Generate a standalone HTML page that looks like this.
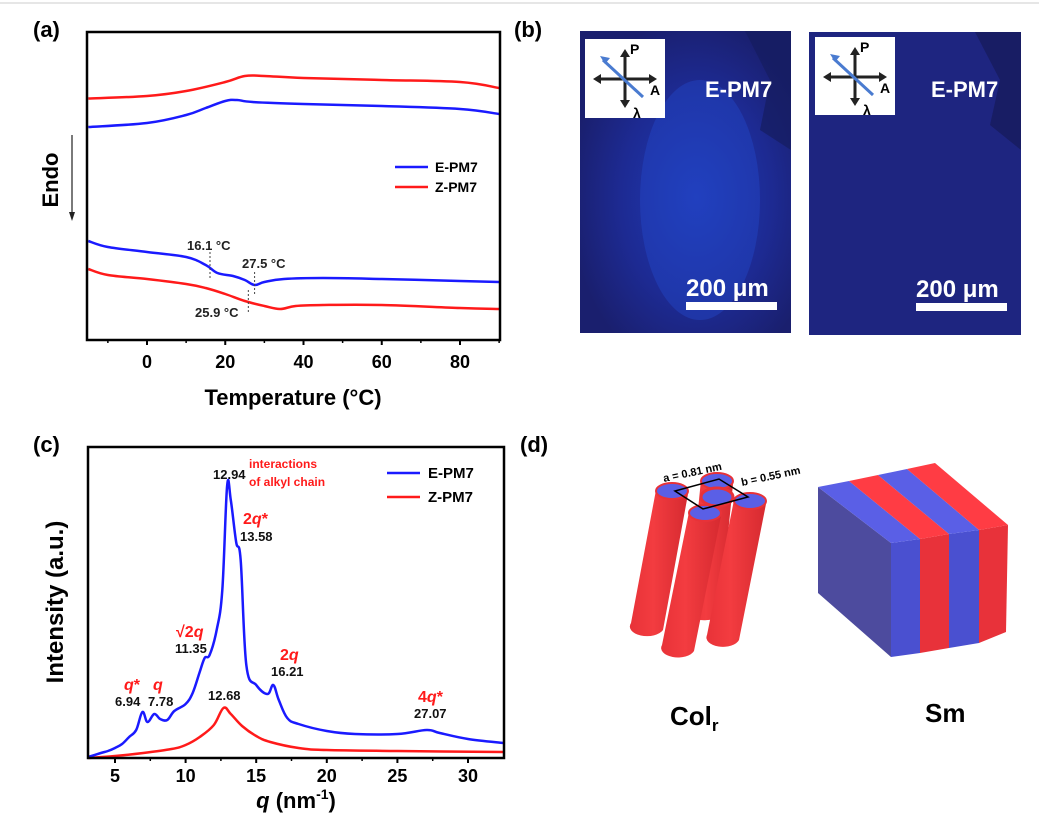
<!DOCTYPE html>
<html><head><meta charset="utf-8"><style>
html,body{margin:0;padding:0;background:#fff;}
svg{display:block;font-family:"Liberation Sans",Arial,sans-serif;}
</style></head><body>
<svg id="fig" width="1039" height="828" viewBox="0 0 1039 828" xmlns="http://www.w3.org/2000/svg">
<defs>
<radialGradient id="pom1" cx="0.55" cy="0.55" r="0.6"><stop offset="0" stop-color="#1f3bb8"/><stop offset="0.6" stop-color="#1d2a92"/><stop offset="1" stop-color="#1a1f6e"/></radialGradient>
<linearGradient id="cyl" x1="0" x2="1"><stop offset="0" stop-color="#e83238"/><stop offset="0.4" stop-color="#f33c40"/><stop offset="1" stop-color="#d62a30"/></linearGradient>
</defs>
<line x1="0" y1="3" x2="1039" y2="3" stroke="#ccc" stroke-width="1"/>
<g font-weight="bold" font-size="22">
<text x="33" y="37">(a)</text>
<text x="514" y="37">(b)</text>
<text x="33" y="452">(c)</text>
<text x="520" y="452">(d)</text>
</g>
<g id="dsc"></g>
<g id="xrd"></g>

<g>
<rect x="580" y="31" width="211" height="302" fill="url(#pom1)"/>
<ellipse cx="700" cy="200" rx="60" ry="120" fill="#2347c8" opacity="0.45"/>
<path d="M745 31 L791 31 L791 150 L760 130 L770 80Z" fill="#151c60" opacity="0.7"/>
<rect x="809" y="32" width="212" height="303" fill="#1e2580"/>
<path d="M975 32 L1021 32 L1021 150 L990 125 L1000 80Z" fill="#151a58" opacity="0.7"/>
<g>
<rect x="585" y="39" width="80" height="79" fill="#fff"/>
<g stroke="#222" stroke-width="3" fill="#222"><line x1="625" y1="55" x2="625" y2="103"/><line x1="598" y1="79" x2="652" y2="79"/></g>
<path d="M625 49 l-5 8 h10z M625 108 l-5 -8 h10z M593 79 l8 -5 v10z M657 79 l-8 -5 v10z" fill="#222"/>
<line x1="603" y1="60" x2="643" y2="97" stroke="#4a7bd0" stroke-width="3"/><path d="M600 56 l10 2 l-5 6z" fill="#4a7bd0"/>
<text x="630" y="54" font-size="14" font-weight="bold">P</text><text x="650" y="95" font-size="14" font-weight="bold">A</text><text x="633" y="118" font-size="14" font-weight="bold">λ</text>
</g>
<g>
<rect x="815" y="37" width="80" height="78" fill="#fff"/>
<g stroke="#222" stroke-width="3"><line x1="855" y1="53" x2="855" y2="101"/><line x1="828" y1="77" x2="882" y2="77"/></g>
<path d="M855 47 l-5 8 h10z M855 106 l-5 -8 h10z M823 77 l8 -5 v10z M887 77 l-8 -5 v10z" fill="#222"/>
<line x1="833" y1="58" x2="873" y2="95" stroke="#4a7bd0" stroke-width="3"/><path d="M830 54 l10 2 l-5 6z" fill="#4a7bd0"/>
<text x="860" y="52" font-size="14" font-weight="bold">P</text><text x="880" y="93" font-size="14" font-weight="bold">A</text><text x="863" y="115" font-size="14" font-weight="bold">λ</text>
</g>
<g fill="#fff" font-weight="bold">
<text x="705" y="97" font-size="22">E-PM7</text>
<text x="931" y="97" font-size="22">E-PM7</text>
<text x="686" y="296" font-size="24">200 μm</text>
<rect x="686" y="302" width="91" height="8"/>
<text x="916" y="297" font-size="24">200 μm</text>
<rect x="916" y="303" width="91" height="8"/>
</g>
</g>

<g>
<g><path d="M701 480 L688 610 A16 8 0 0 0 720 614 L733 484Z" fill="url(#cyl)"/><ellipse cx="717" cy="481" rx="16" ry="8" fill="#5a5fe6" stroke="#e83238" stroke-width="2"/></g>
<g><path d="M656 490 L631 623 A16 9 0 0 0 663 630 L688 494Z" fill="url(#cyl)"/><ellipse cx="672" cy="491" rx="16" ry="8" fill="#5a5fe6" stroke="#e83238" stroke-width="2"/></g>
<g><path d="M734 500 L707 635 A16 9 0 0 0 739 640 L766 504Z" fill="url(#cyl)"/><ellipse cx="750" cy="501" rx="16" ry="8" fill="#5a5fe6" stroke="#e83238" stroke-width="2"/></g>
<g><path d="M689 512 L662 645 A16 9 0 0 0 694 651 L721 516Z" fill="url(#cyl)"/><ellipse cx="705" cy="513" rx="16" ry="8" fill="#5a5fe6" stroke="#e83238" stroke-width="2"/></g>
<ellipse cx="717" cy="497" rx="16" ry="9" fill="#5a5fe6" stroke="#e83238" stroke-width="3"/>
<polygon points="675,491 719,479 748,497 703,509" fill="none" stroke="#000" stroke-width="1.5"/>
<text x="664" y="482" font-size="11" font-weight="bold" transform="rotate(-12 664 482)">a = 0.81 nm</text>
<text x="742" y="486" font-size="11" font-weight="bold" transform="rotate(-12 742 486)">b = 0.55 nm</text>
<text x="670" y="725" font-size="26" font-weight="bold">Col<tspan font-size="17" dy="6">r</tspan></text>
</g>
<g>
<polygon points="818,487 891,543 891,657 818,593" fill="#4d4b9e"/>
<polygon points="891,543 920,539 920,653 891,657" fill="#4a50d0"/>
<polygon points="920,539 949,534 949,648 920,653" fill="#e8323a"/>
<polygon points="949,534 979,530 979,643 949,648" fill="#4a50d0"/>
<polygon points="979,530 1008,525 1006,632 979,643" fill="#e8323a"/>
<polygon points="818,487 849,481 920,539 891,543" fill="#5a5fe6"/>
<polygon points="849,481 878,475 949,534 920,539" fill="#ff3c44"/>
<polygon points="878,475 907,469 979,530 949,534" fill="#5a5fe6"/>
<polygon points="907,469 935,463 1008,525 979,530" fill="#ff3c44"/>
<text x="925" y="722" font-size="26" font-weight="bold">Sm</text>
</g>
</svg>
<script>
// ---------- DSC data (panel a) ----------
const eHeatT = [-15,0,10,15,20,23,27,40,60,80,90];
const eHeat  = [213,217,225,232,239,240,238,236,234,231,226];
const zHeatT = [-15,0,10,20,25,30,40,60,80,90];
const zHeat  = [241.5,244,249,258,264,264,262,260,258,252];
const eCoolT = [-15,-10,0,10,15,18,22,25,27.5,30,35,45,60,80,90];
const eCool  = [99,93,88,83,75,67,64,60,55,58,61,62,61,59,58];
const zCoolT = [-15,-10,0,10,15,20,25,30,34,38,45,60,80,90];
const zCool  = [71,65,61,56,52,46,39,34,31,34,35,35,32,31];
const dscTicks = [0,20,40,60,80];
const dscMinor = [-10,10,30,50,70,90];
const dscMarks = [16.1,27.5,25.9];

// ---------- XRD data (panel c) ----------
const ePM7q = [3.1,4,4.5,5,5.5,6,6.5,6.94,7.3,7.78,8.2,8.7,9.2,10,10.5,11,11.35,11.7,12.2,12.6,12.94,13.2,13.58,13.9,14.3,15,15.8,16.21,16.6,17.2,18,20,22,25,27.07,28,30,32.5];
const ePM7I = [1,5,7,10,14,21,28,46,36,44,39,38,47,54,65,86,100,103,128,168,272,258,216,198,93,73,64,73,58,40,34,27,24,24,28,25,19,15];
const zPM7q = [3.1,5,7,9,10,11,12,12.68,13.2,14,15,16,18,20,25,32.5];
const zPM7I = [0,2,5,9,13,21,33,50,44,32,22,16,10,8,7,6];
const xrdTicks = [5,10,15,20,25,30];
const xrdMinor = [7.5,12.5,17.5,22.5,27.5];

const NS="http://www.w3.org/2000/svg";
function mk(parent,tag,attrs){const e=document.createElementNS(NS,tag);for(const k in attrs)e.setAttribute(k,attrs[k]);parent.appendChild(e);return e;}
function smooth(pts){let d="M"+pts[0][0]+" "+pts[0][1];for(let i=0;i<pts.length-1;i++){const p0=pts[Math.max(i-1,0)],p1=pts[i],p2=pts[i+1],p3=pts[Math.min(i+2,pts.length-1)];const t=0.18;d+=" C"+(p1[0]+(p2[0]-p0[0])*t)+" "+(p1[1]+(p2[1]-p0[1])*t)+" "+(p2[0]-(p3[0]-p1[0])*t)+" "+(p2[1]-(p3[1]-p1[1])*t)+" "+p2[0]+" "+p2[1];}return d;}
function tsp(parent,txt,attrs){const s=mk(parent,'tspan',attrs||{});s.textContent=txt;return s;}

(function(){
const g=document.getElementById('dsc');
const L=87,R=500,T=32,B=340;
const xs=t=>147+t*(313/80);
const ys=v=>340-v;
function series(tx,vals,color,name){
  const p=mk(g,'path',{d:smooth(tx.map((t,i)=>[xs(t),ys(vals[i])])),fill:'none',stroke:color,'stroke-width':2.5});
  
  
}
series(zHeatT,zHeat,'#ff1a1a','z-pm7-heating-curve');
series(eHeatT,eHeat,'#1a1aff','e-pm7-heating-curve');
series(eCoolT,eCool,'#1a1aff','e-pm7-cooling-curve');
series(zCoolT,zCool,'#ff1a1a','z-pm7-cooling-curve');
const r=mk(g,'rect',{x:L,y:T,width:R-L,height:B-T,fill:'none',stroke:'#000','stroke-width':2.5});


dscTicks.forEach(t=>{
  const tk=mk(g,'line',{x1:xs(t),x2:xs(t),y1:B,y2:B+5,stroke:'#000','stroke-width':2});
  
  
  const tl=mk(g,'text',{x:xs(t),y:B+28,'font-size':18,'font-weight':'bold','text-anchor':'middle'});
  tl.textContent=t;
  
  
});
dscMinor.forEach(t=>{
  const tk=mk(g,'line',{x1:xs(t),x2:xs(t),y1:B,y2:B+3,stroke:'#000','stroke-width':1.5});
  
  
});
const spans=[[252,279],[272,296],[290,314]];
dscMarks.forEach((m,i)=>{
  const l=mk(g,'line',{x1:xs(m),x2:xs(m),y1:spans[i][0],y2:spans[i][1],stroke:'#444','stroke-width':1,'stroke-dasharray':'2,2'});
  
  
});
const labs=[[187,250,'16.1 °C'],[242,268,'27.5 °C'],[195,317,'25.9 °C']];
labs.forEach(a=>{const t=mk(g,'text',{x:a[0],y:a[1],'font-size':13,'font-weight':'bold',fill:'#222'});t.textContent=a[2];
  
  });
const xt=mk(g,'text',{x:293,y:405,'font-size':22,'font-weight':'bold','text-anchor':'middle'});xt.textContent='Temperature (°C)';


const yt=mk(g,'text',{x:0,y:0,'font-size':22,'font-weight':'bold','text-anchor':'middle',transform:'translate(58,180) rotate(-90)'});yt.textContent='Endo';


const ar=mk(g,'line',{x1:72,y1:135,x2:72,y2:214,stroke:'#222','stroke-width':1.2});


mk(g,'path',{d:'M69 212 L72 221 L75 212Z',fill:'#222'});
[['E-PM7','#1a1aff',167],['Z-PM7','#ff1a1a',187]].forEach(e=>{
  const l=mk(g,'line',{x1:395,x2:428,y1:e[2],y2:e[2],stroke:e[1],'stroke-width':2.5});
  
  
  const t=mk(g,'text',{x:435,y:e[2]+5,'font-size':14,'font-weight':'bold'});t.textContent=e[0];
  
  
});
})();

(function(){
const g=document.getElementById('xrd');
const L=88,R=504,T=447,B=758;
const xs=q=>115+(q-5)*(353/25);
const ys=v=>758-v;
function series(qs,vals,color,name){
  const p=mk(g,'path',{d:smooth(qs.map((q,i)=>[xs(q),ys(vals[i])])),fill:'none',stroke:color,'stroke-width':2.5});
  
  
}
series(zPM7q,zPM7I,'#ff1a1a','z-pm7-xrd-curve');
series(ePM7q,ePM7I,'#1a1aff','e-pm7-xrd-curve');
const r=mk(g,'rect',{x:L,y:T,width:R-L,height:B-T,fill:'none',stroke:'#000','stroke-width':2.5});


xrdTicks.forEach(t=>{
  const tk=mk(g,'line',{x1:xs(t),x2:xs(t),y1:B,y2:B+5,stroke:'#000','stroke-width':2});
  
  
  const tl=mk(g,'text',{x:xs(t),y:B+24,'font-size':18,'font-weight':'bold','text-anchor':'middle'});tl.textContent=t;
  
  
});
xrdMinor.forEach(t=>{
  const tk=mk(g,'line',{x1:xs(t),x2:xs(t),y1:B,y2:B+3,stroke:'#000','stroke-width':1.5});
  
  
});
const red=[[249,468,12,'interactions'],[249,486,12,'of alkyl chain'],[243,524,16,'2|q|*'],[176,637,16,'√2|q|'],[280,660,16,'2|q|'],[124,690,16,'|q|*'],[153,690,16,'|q|'],[418,702,16,'4|q|*']];
red.forEach(a=>{const t=mk(g,'text',{x:a[0],y:a[1],'font-size':a[2],'font-weight':'bold',fill:'#ff1a1a'});
  if(a[2]===16){const parts=a[3].split('|');parts.forEach(p=>{if(p==='q')tsp(t,'q',{'font-style':'italic'});else if(p)tsp(t,p);});}
  else t.textContent=a[3];
  
  });
const blk=[[213,479,'12.94'],[240,541,'13.58'],[175,653,'11.35'],[271,676,'16.21'],[115,706,'6.94'],[148,706,'7.78'],[208,700,'12.68'],[414,718,'27.07']];
blk.forEach(a=>{const t=mk(g,'text',{x:a[0],y:a[1],'font-size':13,'font-weight':'bold',fill:'#111'});t.textContent=a[2];
  
  });
const xt=mk(g,'text',{x:296,y:808,'font-size':22,'font-weight':'bold','text-anchor':'middle'});
tsp(xt,'q',{'font-style':'italic'});tsp(xt,' (nm');tsp(xt,'-1',{'font-size':14,dy:-9});tsp(xt,')',{dy:9});


const yt=mk(g,'text',{x:0,y:0,'font-size':24,'font-weight':'bold','text-anchor':'middle',transform:'translate(63,602) rotate(-90)'});yt.textContent='Intensity (a.u.)';


[['E-PM7','#1a1aff',473],['Z-PM7','#ff1a1a',497]].forEach(e=>{
  const l=mk(g,'line',{x1:387,x2:420,y1:e[2],y2:e[2],stroke:e[1],'stroke-width':2.5});
  
  
  const t=mk(g,'text',{x:428,y:e[2]+5,'font-size':15,'font-weight':'bold'});t.textContent=e[0];
  
  
});
})();
</script>
</body></html>
